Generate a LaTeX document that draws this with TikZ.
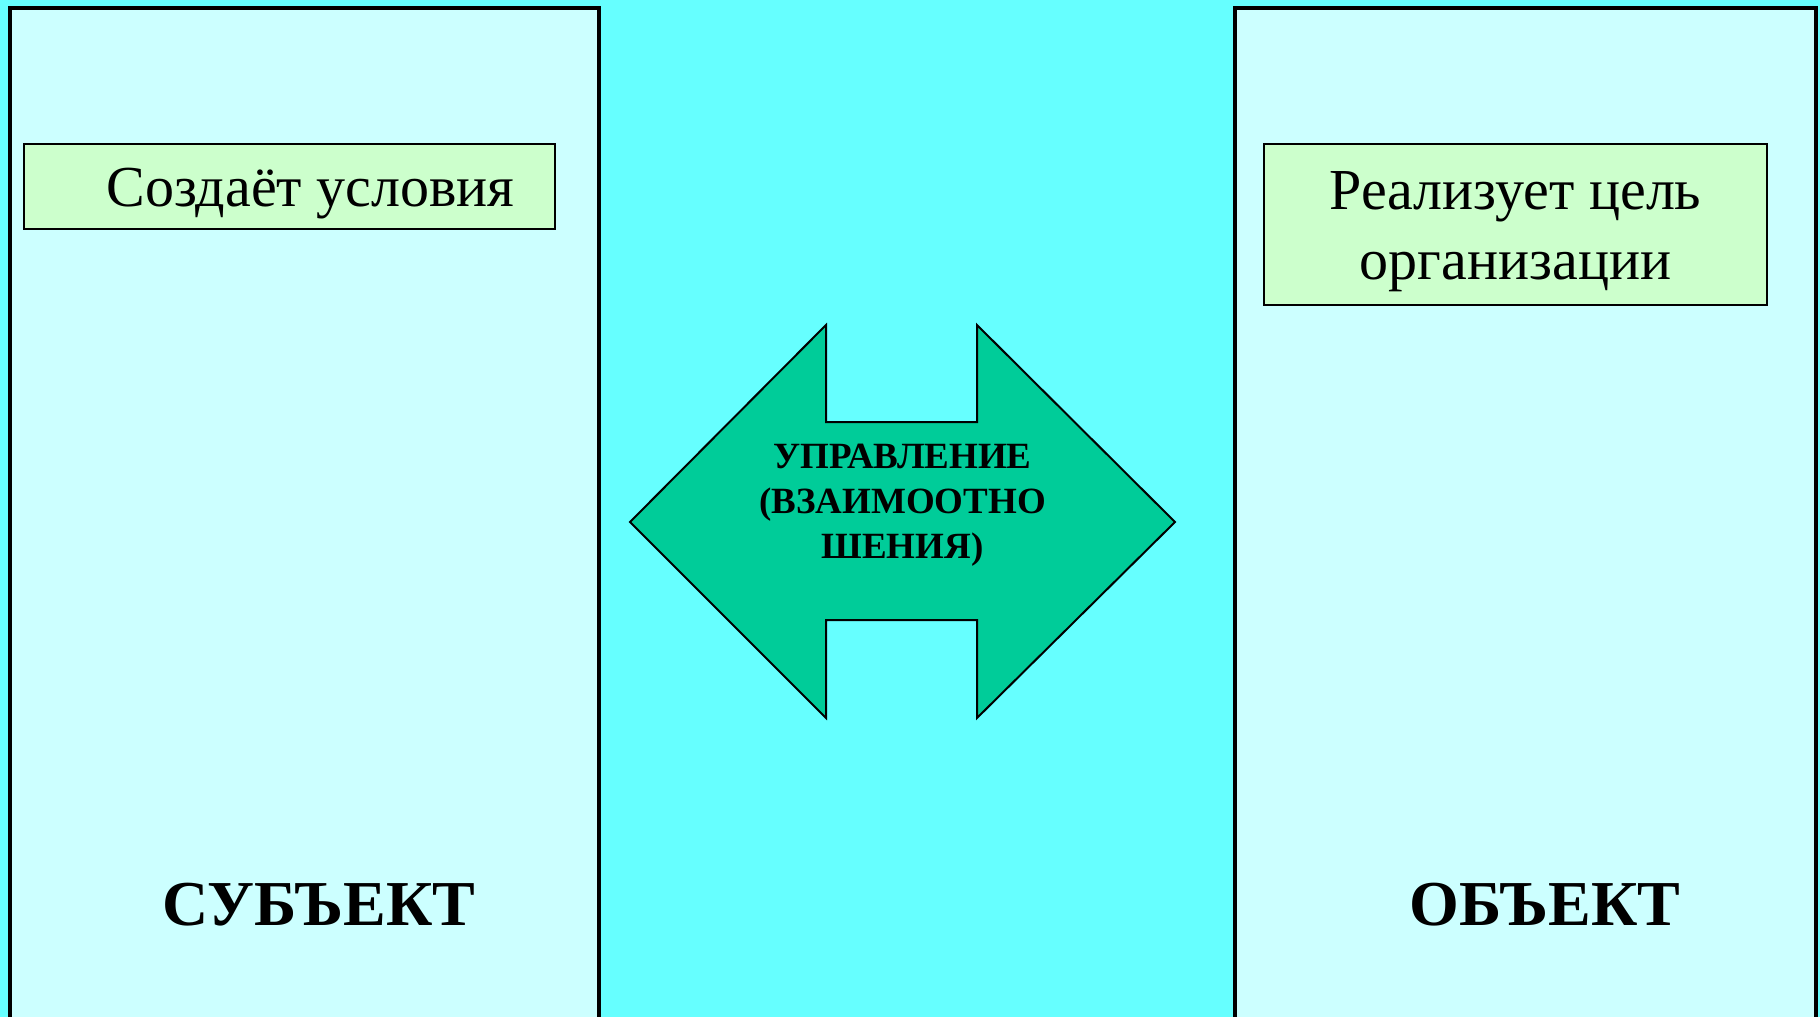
\documentclass[tikz,border=0pt]{standalone}
\usepackage{fontspec}
\setmainfont{Liberation Serif}
\definecolor{bgcyan}{HTML}{66FFFF}
\definecolor{panelcyan}{HTML}{CCFFFF}
\definecolor{boxgreen}{HTML}{CCFFCC}
\definecolor{arrowgreen}{HTML}{00CC99}
\tikzset{
  panel/.style={draw=black, line width=2pt, fill=panelcyan},
  greenbox/.style={draw=black, line width=1pt, fill=boxgreen, rectangle, inner sep=0pt},
  bigword/.style={font=\fontsize{32}{38}\selectfont\bfseries, inner sep=0pt, anchor=base},
}
\begin{document}
\begin{tikzpicture}[x=0.5pt, y=-0.5pt]
\useasboundingbox (0,0) rectangle (1820,1017);
\fill[bgcyan] (0,0) rectangle (1820,1017);
% panels
\path[panel] (10,8) rectangle (599,1040);
\path[panel] (1235,8) rectangle (1816,1040);
% left box
\node[greenbox, minimum width=265.5pt, minimum height=42.5pt] (box1) at (289.5,186.5) {};
\node[anchor=base west, inner sep=0pt, font=\fontsize{29}{35}\selectfont] (t1) at (106,206) {Создаёт условия};
% right box
\node[greenbox, minimum width=251.5pt, minimum height=80.5pt] (box2) at (1515.5,224.5) {};
\node[anchor=base, inner sep=0pt, font=\fontsize{29}{35}\selectfont, align=center] (t2) at (1515.5,279) {Реализует цель\\организации};
% double arrow
\draw[line width=1pt, fill=arrowgreen]
  (630,522) -- (826,325) -- (826,422) -- (977,422) -- (977,325) -- (1175,522)
  -- (977,718) -- (977,620) -- (826,620) -- (826,718) -- cycle;
\node[anchor=base, inner sep=0pt, align=center, font=\fontsize{18.5}{22.5}\selectfont\bfseries] (upr) at (902.5,558) {УПРАВЛЕНИЕ\\(ВЗАИМООТНО\\ШЕНИЯ)};
% bottom labels
\node[bigword] (subj) at (319,925) {СУБЪЕКТ};
\node[bigword] (obj) at (1545,925) {ОБЪЕКТ};
\end{tikzpicture}
\end{document}
